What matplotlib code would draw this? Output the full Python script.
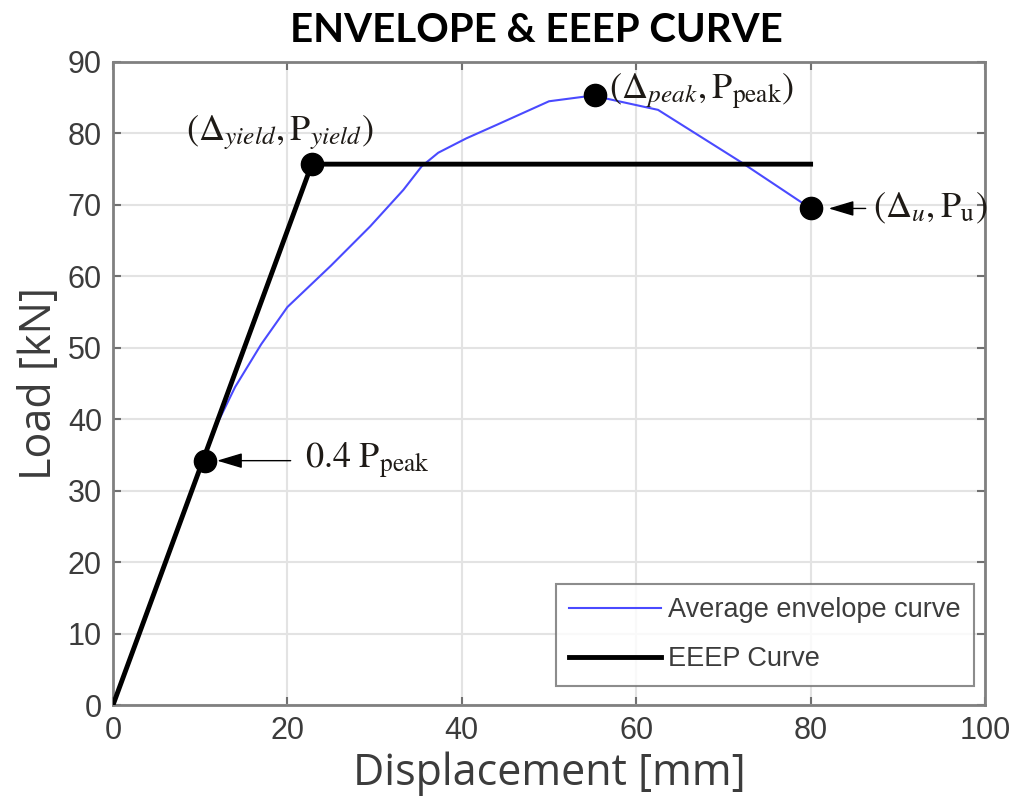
import numpy as np
import matplotlib
matplotlib.use("Agg")
import matplotlib.pyplot as plt

plt.rcParams["mathtext.fontset"] = "stix"

# average envelope curve
env_x = [0, 5, 10, 12, 14, 17, 20, 25, 29.5, 33.3, 35.4, 37.3, 40.5, 44, 50, 55, 62.5, 72, 80]
env_y = [0, 16.5, 33, 39.5, 44.5, 50.5, 55.7, 61.5, 67.0, 72.1, 75.4, 77.3, 79.3, 81.2, 84.5, 85.3, 83.3, 76, 69.5]

# EEEP bilinear curve
eeep_x = [0, 22.8, 80]
eeep_y = [0, 75.7, 75.7]

# key points: 0.4 Ppeak, yield, peak, ultimate
pt_x = [10.5, 22.8, 55.3, 80]
pt_y = [34.2, 75.7, 85.4, 69.5]
pt_labels = [r"$0.4\ \mathrm{P}_{\mathrm{peak}}$",
             r"$(\Delta_{yield},\mathrm{P}_{yield})$",
             r"$(\Delta_{peak},\mathrm{P}_{\mathrm{peak}})$",
             r"$(\Delta_{u},\mathrm{P}_{\mathrm{u}})$"]

xticks = [0, 20, 40, 60, 80, 100]
yticks = [0, 10, 20, 30, 40, 50, 60, 70, 80, 90]

fig = plt.figure(figsize=(10.18, 8.06), dpi=100)
ax = fig.add_axes([0.111, 0.1253, 0.8566, 0.7978])

ax.plot(env_x, env_y, color="#4a4aff", lw=1.5, label="Average envelope curve", zorder=3)
ax.plot(eeep_x, eeep_y, color="black", lw=3.5, label="EEEP Curve", zorder=4)
ax.plot(pt_x, pt_y, "o", color="black", ms=16, zorder=5)

ax.set_xlim(0, 100)
ax.set_ylim(0, 90)
ax.set_xticks(xticks)
ax.set_yticks(yticks)
ax.grid(True, color="#e3e3e3", lw=1.5)
ax.set_axisbelow(True)
ax.tick_params(direction="in", length=6, width=1.5, top=True, right=True,
               colors="#707070", labelcolor="#3c3c3c", labelsize=22, pad=8)
for lab in ax.get_xticklabels() + ax.get_yticklabels():
    lab.set_family("Liberation Sans")
for s in ax.spines.values():
    s.set_color("#808080")
    s.set_linewidth(2)

ax.set_xlabel("Displacement [mm]", fontsize=31, family="Open Sans", color="#3c3c3c", labelpad=4)
ax.set_ylabel("Load [kN]", fontsize=31, family="Open Sans", color="#3c3c3c", labelpad=4)
fig.text(0.527, 0.962, "ENVELOPE & EEEP CURVE", fontsize=29, fontweight="bold",
         family="Lato", ha="center", va="center", color="black")

arrow = dict(arrowstyle="-|>,head_length=0.6,head_width=0.18", color="black", lw=1.0)
txt = dict(fontsize=26, color="#1e1a16")
ax.annotate(pt_labels[0], xy=(pt_x[0], pt_y[0]), xytext=(100, 0), textcoords="offset pixels",
            ha="left", va="center", arrowprops=dict(arrow, shrinkA=8, shrinkB=9), **txt)
ax.annotate(pt_labels[1], xy=(pt_x[1], pt_y[1]), xytext=(-32, 32), textcoords="offset pixels",
            ha="center", va="center", **txt)
ax.annotate(pt_labels[2], xy=(pt_x[2], pt_y[2]), xytext=(14, 3), textcoords="offset pixels",
            ha="left", va="center", **txt)
ax.annotate(pt_labels[3], xy=(pt_x[3], pt_y[3]), xytext=(62, 0), textcoords="offset pixels",
            ha="left", va="center", arrowprops=dict(arrow, shrinkA=3, shrinkB=13), **txt)

leg = ax.legend(loc="lower right", bbox_to_anchor=(0.9875, 0.0295),
                prop={"family": "Liberation Sans", "size": 19.5}, frameon=True, fancybox=False,
                edgecolor="#707070", handlelength=3.4, handletextpad=0.25, borderpad=0.5,
                labelspacing=0.85, borderaxespad=0)
leg.get_frame().set_linewidth(1.5)
for t in leg.get_texts():
    t.set_color("#3c3c3c")

fig.savefig("out.png", dpi=100)
